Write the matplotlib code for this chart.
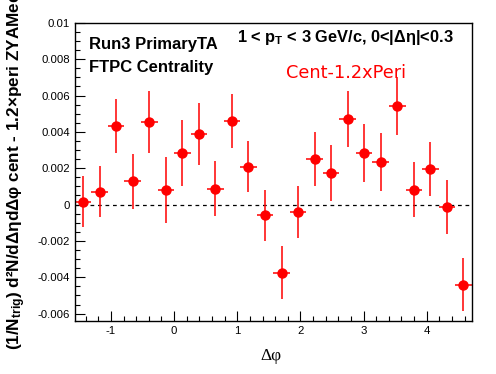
import numpy as np
import matplotlib
matplotlib.use("Agg")
import matplotlib.pyplot as plt
from matplotlib.ticker import MultipleLocator

plt.rcParams['font.family'] = ['Liberation Sans', 'DejaVu Sans']
plt.rcParams['mathtext.fontset'] = 'custom'
plt.rcParams['mathtext.rm'] = 'Liberation Sans:bold'
plt.rcParams['mathtext.it'] = 'Liberation Sans:bold'
plt.rcParams['mathtext.bf'] = 'Liberation Sans:bold'

# bin centres in delta phi: 24 bins over [-pi/2, 3pi/2]
n_bins = 24
dphi_lo, dphi_hi = -np.pi / 2, 3 * np.pi / 2

values = [0.00015, 0.0007, 0.00432, 0.00128, 0.00454, 0.00081, 0.00284, 0.00388,
          0.00088, 0.0046, 0.00207, -0.0006, -0.00375, -0.0004, 0.00251, 0.00176,
          0.00471, 0.00284, 0.00235, 0.00542, 0.00082, 0.00196, -0.00013, -0.00441]
errors = [0.0014, 0.0014, 0.0015, 0.0015, 0.0017, 0.0018, 0.0018, 0.0017,
          0.0015, 0.0015, 0.0014, 0.0014, 0.00145, 0.00144, 0.0015, 0.00154,
          0.00155, 0.0016, 0.0016, 0.0016, 0.0015, 0.0015, 0.0015, 0.00145]

edges = np.linspace(dphi_lo, dphi_hi, n_bins + 1)
centers = 0.5 * (edges[:-1] + edges[1:])
half_w = 0.5 * (edges[1] - edges[0])

fig = plt.figure(figsize=(4.96, 3.74), dpi=100)
ax = fig.add_axes([0.151, 0.142, 0.800, 0.797])

ax.axhline(0, color='black', linestyle=(0, (3, 3)), linewidth=0.9)
ax.errorbar(centers, values, xerr=half_w, yerr=errors, fmt='o', color='red',
            markersize=6.5, elinewidth=1.1, capsize=0)

ax.set_xlim(dphi_lo, dphi_hi)
ax.set_ylim(-0.0064, 0.01)

ax.xaxis.set_major_locator(MultipleLocator(1))
ax.xaxis.set_minor_locator(MultipleLocator(0.2))
ax.yaxis.set_major_locator(MultipleLocator(0.002))
ax.yaxis.set_minor_locator(MultipleLocator(0.0005))
ax.tick_params(which='both', direction='in', top=False, right=False, labelsize=8.2)
ax.tick_params(which='major', length=7, width=0.8)
ax.tick_params(which='minor', length=3.5, width=0.8)
ax.set_yticks(np.arange(-0.006, 0.0101, 0.002))
ax.set_yticklabels(['-0.006', '-0.004', '-0.002', '0', '0.002', '0.004', '0.006', '0.008', '0.01'])
ax.set_xticks([-1, 0, 1, 2, 3, 4])
ax.set_xticklabels(['-1', '0', '1', '2', '3', '4'])
for s in ax.spines.values():
    s.set_linewidth(1.0)

ax.set_xlabel('Δφ', family='Liberation Serif', fontsize=12.5)
ax.xaxis.set_label_coords(0.495, -0.09)

# y title runs off the top of the canvas, as in the original
fig.text(0.033, (374 - 350) / 374,
         '(1/$N_{trig}$) d²N/dΔηdΔφ cent - 1.2×peri ZYAMed',
         rotation=90, ha='center', va='bottom', fontsize=12.3, fontweight='bold')

ax.text(0.035, 0.912, 'Run3 PrimaryTA', transform=ax.transAxes,
        fontsize=12, fontweight='bold', va='baseline')
ax.text(0.035, 0.835, 'FTPC Centrality', transform=ax.transAxes,
        fontsize=12, fontweight='bold', va='baseline')
ax.text(0.408, 0.935, '1 < p$_T$ < 3 GeV/c, 0<|Δη|<0.3', transform=ax.transAxes,
        fontsize=11.8, fontweight='bold', va='baseline')
ax.text(0.683, 0.815, 'Cent-1.2xPeri', transform=ax.transAxes, color='red',
        family='DejaVu Sans', fontsize=12.8, ha='center', va='baseline')

fig.savefig('out.png', dpi=100, facecolor='white')
